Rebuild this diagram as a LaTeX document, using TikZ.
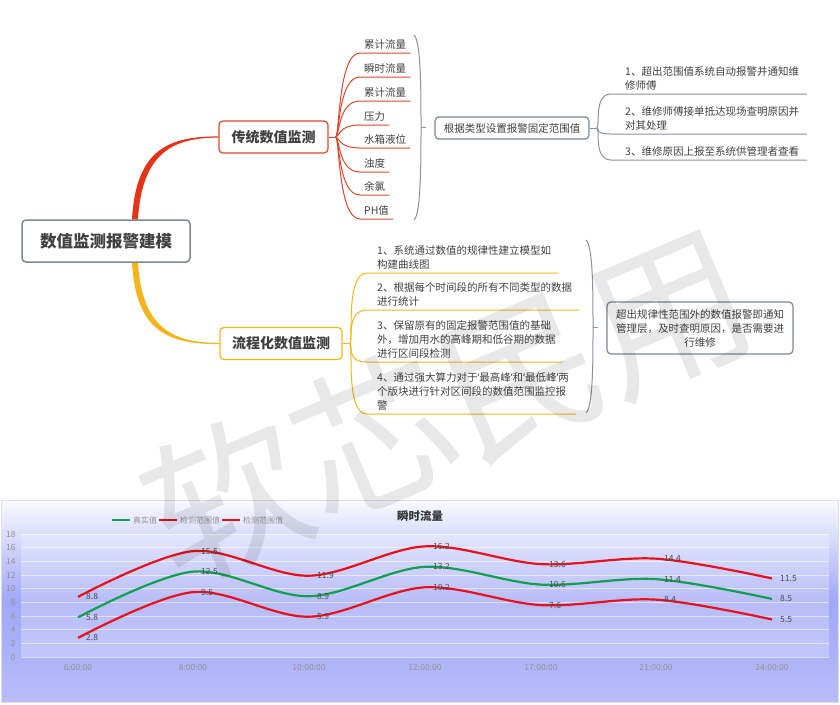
\documentclass[tikz,border=0pt]{standalone}
\usepackage{fontspec}
\setmainfont{Noto Sans CJK SC}
\newfontfamily\latinsans{Noto Sans}
\usetikzlibrary{positioning,calc}
\definecolor{rootgray}{RGB}{123,135,148}
\definecolor{tradred}{RGB}{228,52,24}
\definecolor{leafred}{RGB}{217,72,43}
\definecolor{flowgold}{RGB}{243,181,27}
\definecolor{txtgray}{RGB}{64,64,64}
\definecolor{bracegray}{RGB}{138,146,158}
\definecolor{chartred}{RGB}{232,16,26}
\definecolor{chartgreen}{RGB}{16,160,80}
\definecolor{chartblue}{RGB}{160,167,246}

\begin{document}
\begin{tikzpicture}[x=1pt,y=-1pt,
  root/.style={draw=rootgray,line width=1.5pt,rounded corners=4pt,fill=white,
               minimum width=168pt,minimum height=42pt,
               font=\fontsize{16.5}{20}\selectfont\bfseries,text=txtgray},
  topic/.style={line width=1.2pt,rounded corners=4pt,fill=white,minimum height=32pt,
                font=\fontsize{14}{17}\selectfont\bfseries,text=txtgray},
  leaf/.style={anchor=south west,inner xsep=0pt,inner ysep=3.5pt,align=left,
               font=\fontsize{10.5}{14}\selectfont,text=txtgray},
  box/.style={draw=rootgray,line width=1.2pt,rounded corners=4pt,fill=white,align=center,
              font=\fontsize{10.5}{14}\selectfont,text=txtgray},
  tradline/.style={draw=leafred,line width=1pt},
  flowline/.style={draw=flowgold,line width=1pt},
  brace/.style={draw=bracegray,line width=1pt},
  upper/.style={draw=chartred,line width=2.2pt},
  real/.style={draw=chartgreen,line width=2.2pt},
  grid/.style={draw=white,opacity=0.55,line width=0.8pt},
  axlbl/.style={font=\fontsize{8.5}{10}\selectfont,text=gray!85},
  lbl/.style={anchor=west,xshift=7pt,inner sep=1pt,font=\fontsize{8.5}{10}\selectfont,text=black!70},
  leg/.style={anchor=west,inner sep=1pt,font=\fontsize{8}{10}\selectfont,text=gray!85},
  wmark/.style={rotate=23,font=\fontsize{160}{160}\selectfont,text=black,opacity=0.09}
]
  \useasboundingbox (0,0) rectangle (840,704);

  % Topics
  \node[root] (root) at (106,241) {数值监测报警建模};
  \node[topic,draw=leafred,minimum width=109pt] (trad) at (273.5,137) {传统数值监测};
  \node[topic,draw=flowgold,minimum width=122pt] (flow) at (281,343.5) {流程化数值监测};

  % Main branches
  \fill[tradred] ([xshift=26pt]root.north) .. controls +(4,-70) and +(-50,0) .. ([yshift=0.6pt]trad.west)
    -- ([yshift=-0.6pt]trad.west) .. controls +(-46,0) and +(4,-66) .. ([xshift=32pt]root.north) -- cycle;
  \fill[flowgold] ([xshift=26pt]root.south) .. controls +(4,70) and +(-50,0) .. ([yshift=-0.6pt]flow.west)
    -- ([yshift=0.6pt]flow.west) .. controls +(-46,0) and +(4,66) .. ([xshift=32pt]root.south) -- cycle;

  % Traditional monitoring
  \coordinate (tj) at ([xshift=7pt]trad.east);
  \draw[tradline] (trad.east) -- (tj);
  \foreach \name/\txt/\yy in {t1/累计流量/53,t2/瞬时流量/77,t3/累计流量/101,t4/压力/125,
                              t5/水箱液位/148,t6/浊度/172,t7/余氯/195,t8/PH值/219}{
    \node[leaf] (\name) at (364,\yy) {\txt};
    \draw[tradline] (tj) .. controls +(4,0) and +(-22,0) .. ([xshift=-4pt]\name.south west)
      -- ([xshift=4pt]\name.south east);
  }
  \coordinate (b1t) at (414,35);
  \coordinate (b1m) at (421,127);
  \coordinate (b1b) at (414,220);
  \draw[brace] (b1t) .. controls +(7,6) and +(0,-35) .. (b1m) .. controls +(0,35) and +(7,-6) .. (b1b);
  \draw[brace] (b1m) -- ++(5,0);
  \node[box,minimum width=154pt,minimum height=22pt] (fix) at (512,128) {根据类型设置报警固定范围值};

  \coordinate (xj) at ([xshift=7pt]fix.east);
  \draw[brace] (fix.east) -- (xj);
  \node[leaf] (i1) at (625,94)  {1、超出范围值系统自动报警并通知维\\修师傅};
  \node[leaf] (i2) at (625,134) {2、维修师傅接单抵达现场查明原因并\\对其处理};
  \node[leaf] (i3) at (625,160) {3、维修原因上报至系统供管理者查看};
  \foreach \name in {i1,i2,i3}
    \draw[brace] (xj) .. controls +(4,0) and +(-18,0) .. ([xshift=-14pt]\name.south west)
      -- ([xshift=8pt]\name.south east);

  % Flow monitoring
  \coordinate (fj) at ([xshift=7pt]flow.east);
  \draw[flowline] (flow.east) -- (fj);
  \node[leaf] (f1) at (377,273) {1、系统通过数值的规律性建立模型如\\构建曲线图};
  \node[leaf] (f2) at (377,310) {2、根据每个时间段的所有不同类型的数据\\进行统计};
  \node[leaf] (f3) at (377,362) {3、保留原有的固定报警范围值的基础\\外，增加用水的高峰期和低谷期的数据\\进行区间段检测};
  \node[leaf] (f4) at (377,414) {4、通过强大算力对于{\latinsans ‘}最高峰{\latinsans ’}和{\latinsans ‘}最低峰{\latinsans ’}两\\个版块进行针对区间段的数值范围监控报\\警};
  \foreach \name in {f1,f2,f3,f4}
    \draw[flowline] (fj) .. controls +(4,0) and +(-22,0) .. ([xshift=-10pt]\name.south west)
      -- ([xshift=7pt]\name.south east);
  \coordinate (b2t) at (586,240);
  \coordinate (b2m) at (593,327);
  \coordinate (b2b) at (586,413);
  \draw[brace] (b2t) .. controls +(7,6) and +(0,-35) .. (b2m) .. controls +(0,35) and +(7,-6) .. (b2b);
  \draw[brace] (b2m) -- ++(5,0);
  \node[box,minimum width=186pt,minimum height=52pt] (warn) at (700,328)
    {超出规律性范围外的数值报警即通知\\管理层，及时查明原因，是否需要进\\行维修};

  % Chart
  \shade[top color=white!94!chartblue,bottom color=chartblue!75!white,middle color=chartblue]
    (1,500) rectangle (838,702);
  \draw[gray!25] (1,500) rectangle (838,702);
  \fill[white,opacity=0.25] (21,534) rectangle (829,657);
  \node[font=\fontsize{11.5}{13}\selectfont\bfseries,text=black!80] (title) at (420,516) {瞬时流量};
  \draw[chartgreen,line width=2.5pt] (112,520) -- (130,520);
  \node[leg] (lg1) at (132,520) {真实值};
  \draw[chartred,line width=2.5pt] (159,520) -- (177,520);
  \node[leg] (lg2) at (179,520) {检测范围值};
  \draw[chartred,line width=2.5pt] (222,520) -- (240,520);
  \node[leg] (lg3) at (242,520) {检测范围值};
  \foreach \xp/\tm [count=\i] in {78/6:00:00,193/8:00:00,309/10:00:00,425/12:00:00,
                                  541/17:00:00,656/21:00:00,772/24:00:00}
    \node[axlbl] (x\i) at (\xp,667) {\tm};

  \begin{scope}[shift={(0,657)},yscale=-6.83]
    \foreach \v in {0,2,...,18}{
      \draw[grid] (21,\v) -- (829,\v);
      \node[axlbl,anchor=east] (y\v) at (19,\v) {\v};
    }
    \draw[upper] plot[smooth,tension=0.55] coordinates
      {(78,8.8) (193,15.5) (309,11.9) (425,16.2) (541,13.6) (656,14.4) (772,11.5)};
    \draw[real] plot[smooth,tension=0.55] coordinates
      {(78,5.8) (193,12.5) (309,8.9) (425,13.2) (541,10.6) (656,11.4) (772,8.5)};
    \draw[upper] plot[smooth,tension=0.55] coordinates
      {(78,2.8) (193,9.5) (309,5.9) (425,10.2) (541,7.6) (656,8.4) (772,5.5)};
    \foreach \xp/\a/\b/\c [count=\i] in {78/8.8/5.8/2.8,193/15.5/12.5/9.5,309/11.9/8.9/5.9,
        425/16.2/13.2/10.2,541/13.6/10.6/7.6,656/14.4/11.4/8.4,772/11.5/8.5/5.5}{
      \node[lbl] (u\i) at (\xp,\a) {\a};
      \node[lbl] (g\i) at (\xp,\b) {\b};
      \node[lbl] (l\i) at (\xp,\c) {\c};
    }
  \end{scope}

  % Watermark
  \node[wmark] (wm) at (447,405) {软芯民用};
\end{tikzpicture}
\end{document}
